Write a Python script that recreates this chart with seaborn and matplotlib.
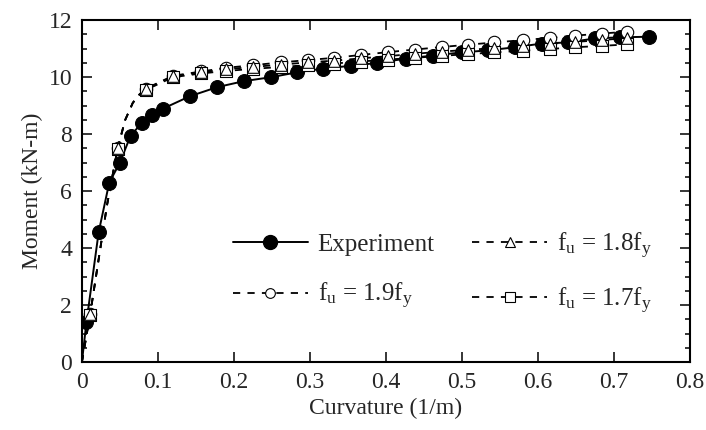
import numpy as np
import matplotlib
matplotlib.use("Agg")
import matplotlib.pyplot as plt
from matplotlib.lines import Line2D
from matplotlib.ticker import MultipleLocator
import seaborn as sns

# Experiment (filled circles), first point is the origin of the curve
exp_x = [0.0, 0.006, 0.022, 0.036, 0.050, 0.064, 0.079, 0.092, 0.107, 0.142,
         0.178, 0.213, 0.249, 0.283, 0.317, 0.354, 0.389, 0.426, 0.462, 0.500,
         0.534, 0.570, 0.605, 0.640, 0.675, 0.708, 0.747]
exp_y = [0.0, 1.4, 4.55, 6.3, 7.0, 7.94, 8.4, 8.67, 8.9, 9.33,
         9.65, 9.86, 10.0, 10.17, 10.3, 10.4, 10.5, 10.65, 10.76, 10.87,
         10.94, 11.05, 11.18, 11.22, 11.36, 11.4, 11.42]

# model marker positions (same for the three fu/fy ratios)
mod_x = [0.011, 0.047, 0.084, 0.120, 0.157, 0.190, 0.225, 0.262, 0.297, 0.332,
         0.367, 0.403, 0.438, 0.474, 0.508, 0.543, 0.580, 0.616, 0.649, 0.684,
         0.718]
fu19_y = [1.7, 7.5, 9.6, 10.05, 10.2, 10.33, 10.42, 10.52, 10.6, 10.68,
          10.78, 10.88, 10.97, 11.06, 11.14, 11.22, 11.3, 11.38, 11.46, 11.53,
          11.6]
fu18_y = [1.7, 7.5, 9.58, 10.03, 10.17, 10.28, 10.36, 10.44, 10.52, 10.58,
          10.66, 10.74, 10.82, 10.9, 10.96, 11.02, 11.1, 11.17, 11.24, 11.3,
          11.38]
fu17_y = [1.65, 7.48, 9.55, 10.0, 10.13, 10.22, 10.29, 10.36, 10.42, 10.48,
          10.55, 10.62, 10.68, 10.75, 10.81, 10.87, 10.93, 10.99, 11.05, 11.1,
          11.15]

# shared steep part of the model curves (between the first markers)
knee_x = [0.0, 0.011, 0.022, 0.033, 0.047, 0.057, 0.067, 0.076]
knee_y = [0.0, 1.7, 3.6, 5.5, 7.5, 8.5, 9.1, 9.4]

x_ticks = [0, 0.1, 0.2, 0.3, 0.4, 0.5, 0.6, 0.7, 0.8]
x_tick_labels = ['0', '0.1', '0.2', '0.3', '0.4', '0.5', '0.6', '0.7', '0.8']
y_ticks = [0, 2, 4, 6, 8, 10, 12]

sns.set_style("ticks")
plt.rcParams['font.family'] = ['Liberation Serif', 'DejaVu Serif']
plt.rcParams['mathtext.default'] = 'regular'

fig = plt.figure(figsize=(7.06, 4.30), dpi=100)
ax = fig.add_axes([0.116, 0.158, 0.861, 0.795])

dash = (4, 4)
# model dashed curves
for ys in [fu19_y, fu18_y, fu17_y]:
    sns.lineplot(x=knee_x + mod_x[2:], y=knee_y + ys[2:], ax=ax, sort=False,
                 color='black', linewidth=1.3, dashes=False, linestyle=(0, dash))

# experiment
sns.lineplot(x=exp_x, y=exp_y, ax=ax, sort=False, color='black', linewidth=1.4,
             marker='o', markersize=10, markeredgecolor='black',
             markerfacecolor='black', markevery=list(range(1, len(exp_x))))

# model markers: circle, square, triangle (triangle on top)
sns.scatterplot(x=mod_x, y=fu19_y, ax=ax, marker='o', s=80, facecolor='white',
                edgecolor='black', linewidth=0.8, zorder=3)
sns.scatterplot(x=mod_x, y=fu17_y, ax=ax, marker='s', s=70, facecolor='white',
                edgecolor='black', linewidth=0.8, zorder=4)
sns.scatterplot(x=mod_x, y=fu18_y, ax=ax, marker='^', s=70, facecolor='white',
                edgecolor='black', linewidth=0.8, zorder=5)

ax.set_xlim(0, 0.8)
ax.set_ylim(0, 12)
ax.set_xticks(x_ticks)
ax.set_xticklabels(x_tick_labels)
ax.set_yticks(y_ticks)
ax.yaxis.set_minor_locator(MultipleLocator(0.5))
ax.tick_params(which='both', direction='in', top=True, right=True,
               labelsize=17, width=1.3, pad=7)
ax.tick_params(which='major', length=7)
ax.tick_params(which='minor', length=3.5)
for sp in ax.spines.values():
    sp.set_linewidth(1.5)
    sp.set_color('black')
ax.set_xlabel('Curvature (1/m)', fontsize=17)
ax.set_ylabel('Moment (kN-m)', fontsize=17)

handles = [
    Line2D([], [], color='black', linewidth=1.4, marker='o', markersize=10,
           markerfacecolor='black'),
    Line2D([], [], color='black', linewidth=1.3, linestyle=(0, dash), marker='o',
           markersize=7, markerfacecolor='white', markeredgewidth=0.8),
    Line2D([], [], color='black', linewidth=1.3, linestyle=(0, dash), marker='^',
           markersize=7, markerfacecolor='white', markeredgewidth=0.8),
    Line2D([], [], color='black', linewidth=1.3, linestyle=(0, dash), marker='s',
           markersize=6.5, markerfacecolor='white', markeredgewidth=0.8),
]
labels = ['Experiment', r'$f_u$ = 1.9$f_y$', r'$f_u$ = 1.8$f_y$', r'$f_u$ = 1.7$f_y$']
ax.legend(handles, labels, ncol=2, frameon=False, fontsize=18, numpoints=1,
          loc='center left', bbox_to_anchor=(0.248, 0.26), borderpad=0,
          borderaxespad=0, handlelength=3.0, handletextpad=0.4,
          columnspacing=1.5, labelspacing=1.0)

fig.savefig('out.png', dpi=100)
